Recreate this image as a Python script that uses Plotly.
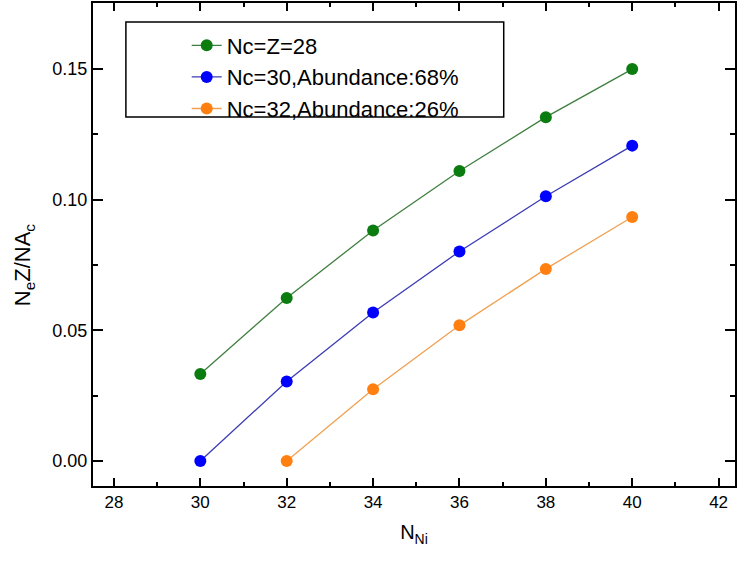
import plotly.graph_objects as go

# Neutron number of Ni and normalised N_e Z / N A_c for three core choices
n_ni_28 = [30, 32, 34, 36, 38, 40]
ratio_28 = [0.0333, 0.0624, 0.0882, 0.1110, 0.1316, 0.1500]

n_ni_30 = [30, 32, 34, 36, 38, 40]
ratio_30 = [0.0000, 0.0304, 0.0568, 0.0802, 0.1013, 0.1207]

n_ni_32 = [32, 34, 36, 38, 40]
ratio_32 = [0.0000, 0.0274, 0.0519, 0.0735, 0.0934]

names = ["Nc=Z=28", "Nc=30,Abundance:68%", "Nc=32,Abundance:26%"]
marker_colors = ["#0b7d10", "#0000ff", "#ff8010"]
line_colors = ["#3f7f3f", "#3c3cb4", "#f0a050"]

x_ticks = [28, 30, 32, 34, 36, 38, 40, 42]
y_ticks = [0.00, 0.05, 0.10, 0.15]

FONT = "Liberation Sans, Arial, sans-serif"

fig = go.Figure()
for xs, ys, name, mc, lc in zip(
    [n_ni_28, n_ni_30, n_ni_32],
    [ratio_28, ratio_30, ratio_32],
    names, marker_colors, line_colors,
):
    fig.add_trace(go.Scatter(
        x=xs, y=ys, name=name, mode="lines+markers",
        line=dict(color=lc, width=1.3),
        marker=dict(color=mc, size=12, line=dict(width=0)),
    ))

W, H = 737, 563
L, T, B = 93, 3, 77
plot_w = W - L
plot_h = H - T - B


def px_x(p):
    return (p - L) / plot_w


def px_y(p):
    return (H - B - p) / plot_h


axis_common = dict(
    showline=True, linecolor="black", linewidth=2,
    showgrid=False, zeroline=False,
    ticks="inside", tickcolor="black", tickwidth=2,
    mirror="ticks",
)

fig.update_layout(
    width=W, height=H,
    margin=dict(l=L, r=0, t=T, b=B),
    paper_bgcolor="white", plot_bgcolor="white",
    font=dict(family=FONT, color="black"),
    xaxis=dict(
        **axis_common,
        range=[27.515, 42.38],
        tickvals=x_ticks, ticklen=8,
        minor=dict(ticks="inside", dtick=1, ticklen=4, tickwidth=2, tickcolor="black"),
        tickfont=dict(size=17, family=FONT),
        title=dict(text="N<sub>Ni</sub>", font=dict(size=20, family=FONT), standoff=14),
    ),
    yaxis=dict(
        **axis_common,
        range=[-0.0096, 0.1753],
        tickvals=y_ticks, tickformat=".2f", ticklen=10,
        minor=dict(ticks="inside", dtick=0.025, ticklen=5, tickwidth=2, tickcolor="black"),
        tickfont=dict(size=18, family=FONT),
    ),
    showlegend=True,
    legend=dict(
        x=px_x(187), xanchor="left",
        y=px_y(77), yanchor="middle",
        bgcolor="rgba(0,0,0,0)", borderwidth=0,
        font=dict(size=22, family=FONT),
        itemwidth=30,
    ),
    shapes=[dict(
        type="rect", xref="paper", yref="paper",
        x0=px_x(126), x1=px_x(505), y0=px_y(117), y1=px_y(22),
        line=dict(color="black", width=1.5), fillcolor="rgba(0,0,0,0)",
        layer="above",
    )],
    annotations=[dict(
        text="N<sub>e</sub>Z/NA<sub>c</sub>", textangle=-90,
        xref="paper", yref="paper", x=px_x(24), y=px_y(265),
        xanchor="center", yanchor="middle", showarrow=False,
        font=dict(size=22, family=FONT),
    )],
)

fig.write_html("out.html")
